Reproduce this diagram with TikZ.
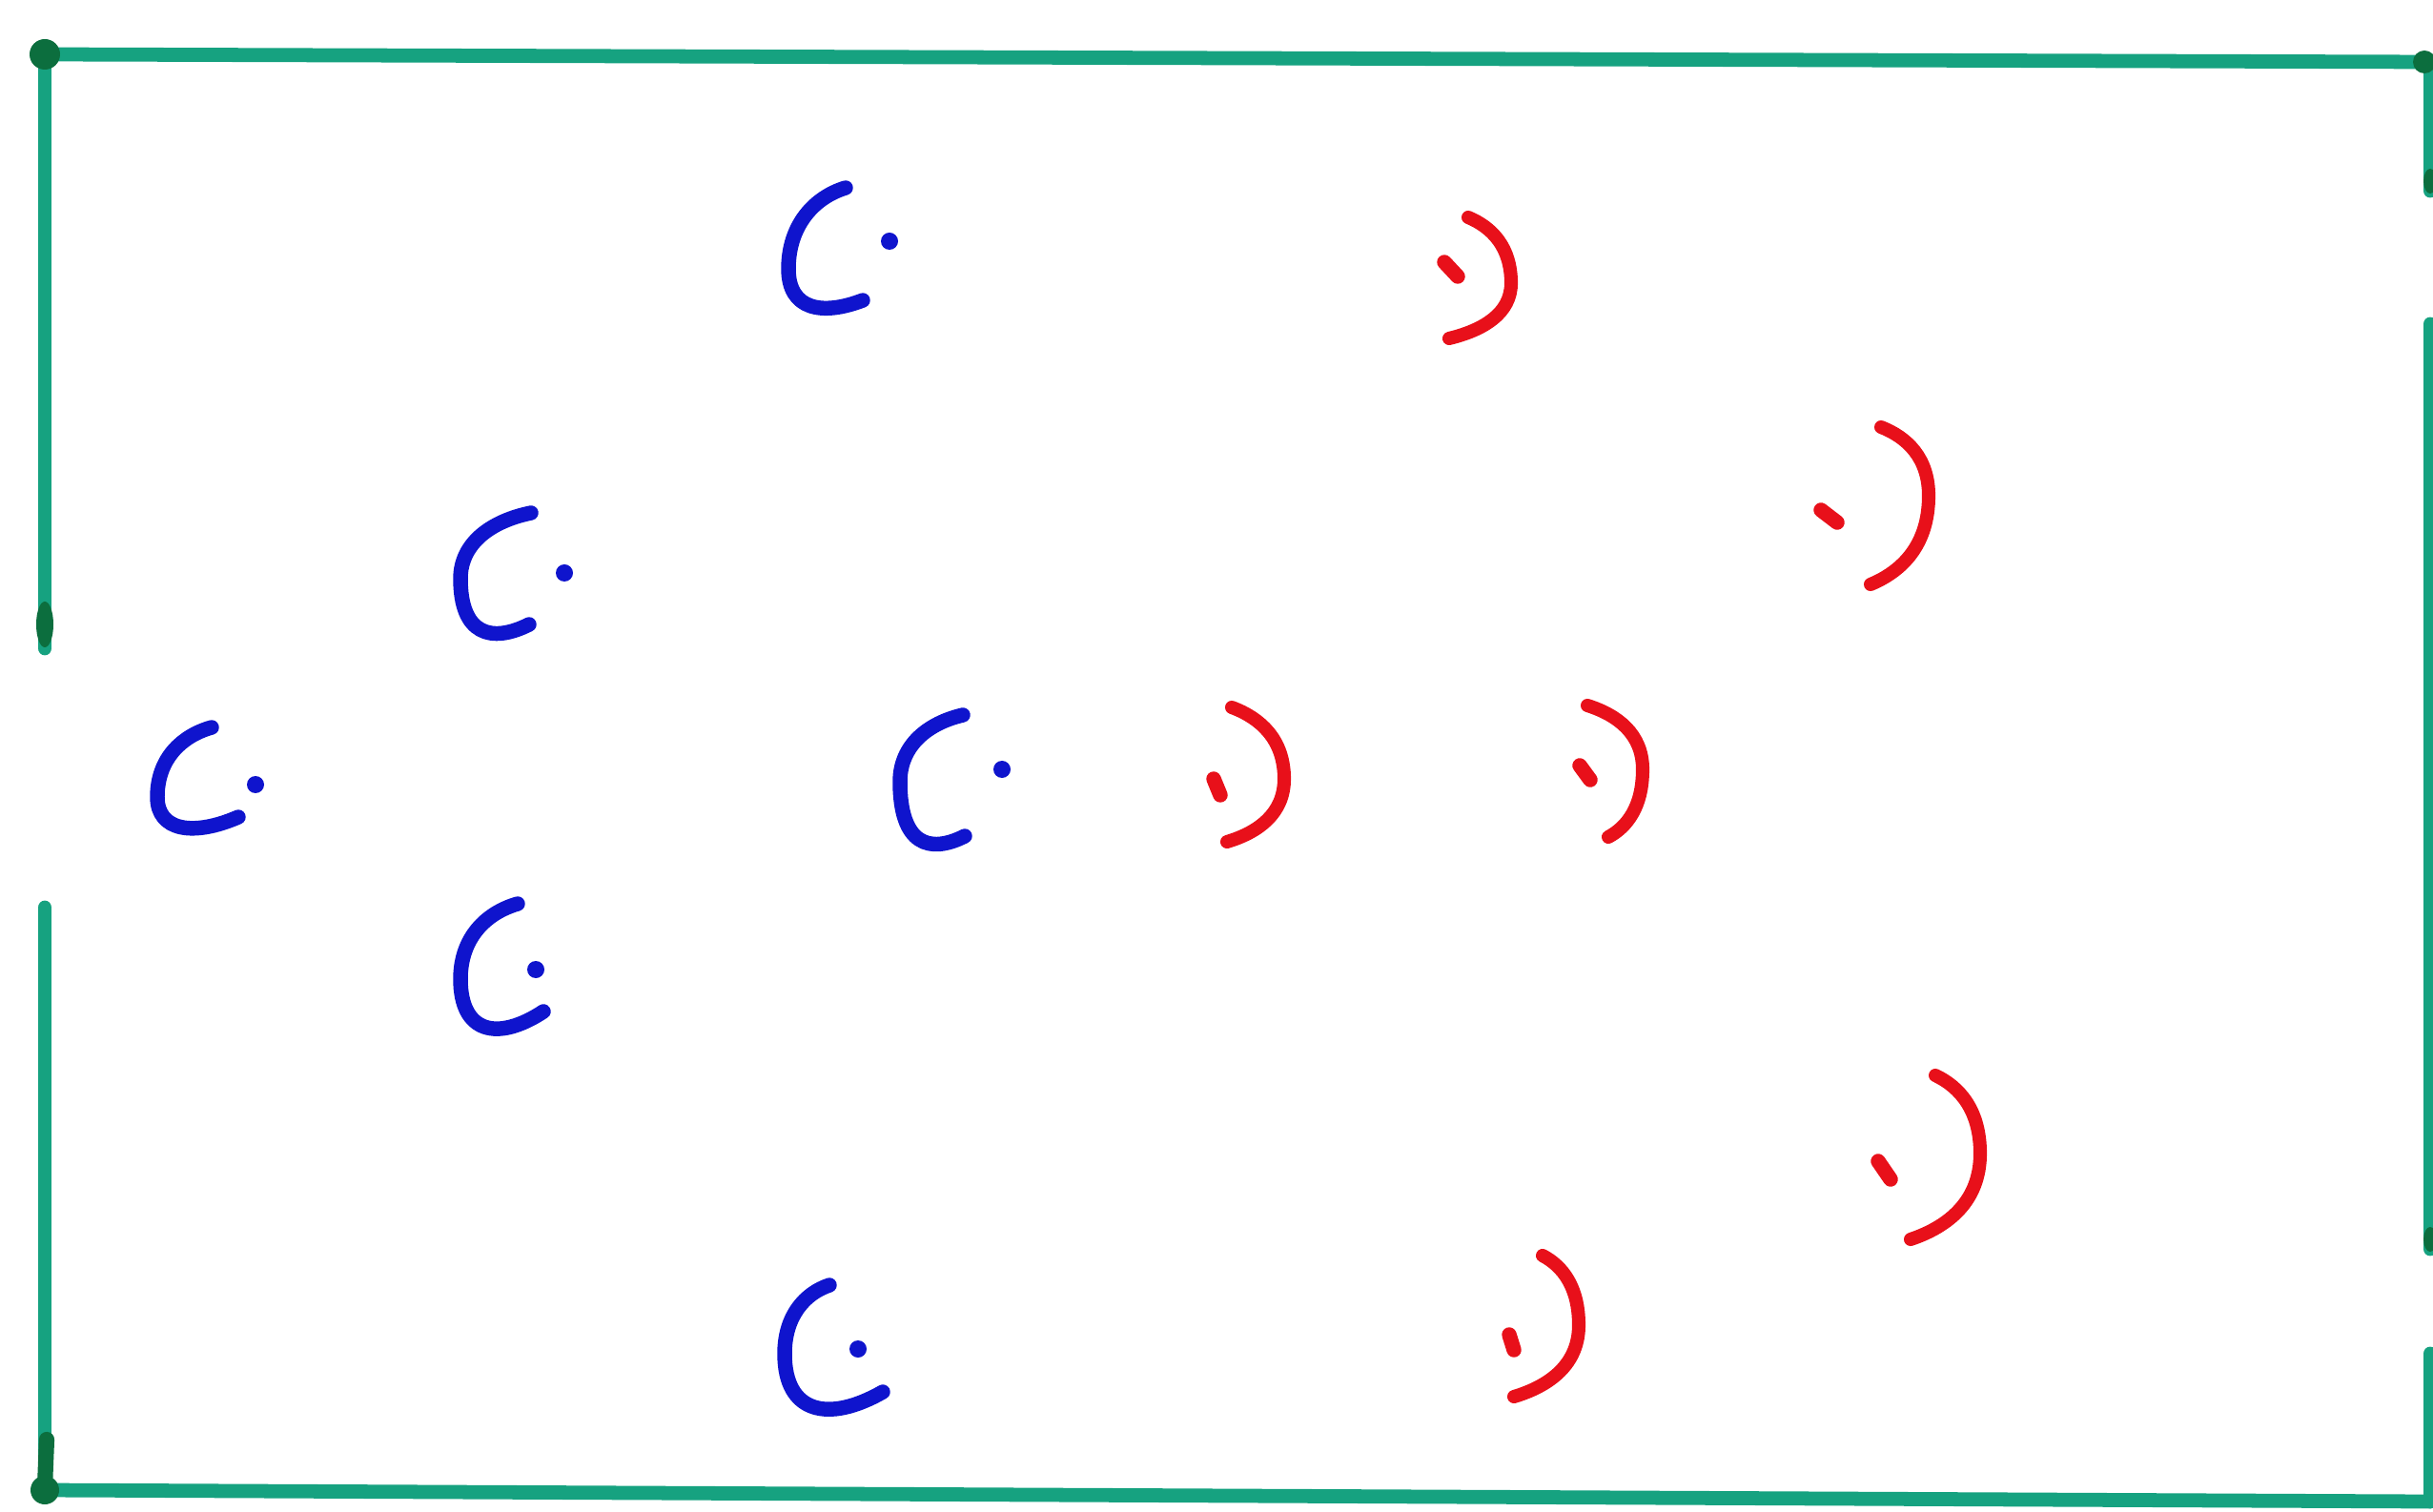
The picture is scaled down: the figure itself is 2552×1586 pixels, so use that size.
\documentclass[tikz,border=0pt]{standalone}
\definecolor{field}{RGB}{22,162,128}
\definecolor{fielddark}{RGB}{12,110,62}
\definecolor{teamblue}{RGB}{15,20,205}
\definecolor{teamred}{RGB}{232,16,26}
\usetikzlibrary{calc}
% blue player: top end T, leftmost L, bottom-most B, end E, dot D
\newcommand\blueplayer[5]{%
  \path #1 coordinate (T) #2 coordinate (L) #3 coordinate (B) #4 coordinate (E);
  \draw[bluearc] (T) .. controls ($(T)!0.55!(L|-T)+(0,0.12*\ly)$) and ($(L)+(0,-0.55*\ly)$) .. (L)
     .. controls (L|-B) and ($(L|-B)!0.45!(E|-B)+(0,0.15*\lb)$) .. (E);
  \fill[bluedot] #5 circle (9);}
% red player: top end T, rightmost R, end E, dash from D1 to D2
\newcommand\redplayer[5]{%
  \path #1 coordinate (T) #2 coordinate (R) #3 coordinate (E);
  \draw[redarc] (T) .. controls ($(T)!0.55!(R|-T)+(0,0.15*\ra)$) and ($(R)+(0,-0.55*\ra)$) .. (R)
     .. controls ($(R)+(0,0.55*\rb)$) and ($(E)!0.55!(R|-E)+(0,-0.15*\rb)$) .. (E);
  \draw[reddot] #4 -- #5;}
\begin{document}
\begin{tikzpicture}[x=0.01cm,y=-0.01cm,
  fieldline/.style={draw=field,line width=4.2pt,line cap=round},
  knot/.style={fill=fielddark},
  bluearc/.style={draw=teamblue,line width=4.4pt,line cap=round,line join=round},
  bluedot/.style={fill=teamblue},
  redarc/.style={draw=teamred,line width=4pt,line cap=round,line join=round},
  reddot/.style={draw=teamred,line width=4.4pt,line cap=round}]
\useasboundingbox (0,0) rectangle (2552,1586);
\fill[white] (0,0) rectangle (2552,1586);

% field outline with goal gaps
\coordinate (tl) at (47,57);
\coordinate (tr) at (2549,65);
\coordinate (bl) at (47,1563);
\coordinate (br) at (2549,1575);
\draw[fieldline] (tl) -- (tr);
\draw[fieldline] (bl) -- (br);
\draw[fieldline] (tl) -- (47,680);
\draw[fieldline] (47,952) -- (bl);
\draw[fieldline] (tr) -- (2549,200);
\draw[fieldline] (2549,340) -- (2549,1310);
\draw[fieldline] (2549,1420) -- (br);
\fill[knot] (tl) circle (16);
\fill[knot] (47,655) ellipse (9 and 24);
\fill[knot] (bl) circle (15);
\draw[fielddark,line width=4.6pt,line cap=round] (49,1510) -- (47,1560);
\fill[knot] (2543,65) circle (12);
\fill[knot] (2549,190) ellipse (7 and 13);
\fill[knot] (2549,1300) ellipse (7 and 13);

% blue team  (\ly = L.y-T.y, \lb = B.y-L.y)
\def\ly{83}\def\lb{43}
\blueplayer{(887,197)}{(827,282)}{(857,325)}{(905,315)}{(933,253)}
\def\ly{69}\def\lb{59}
\blueplayer{(557,538)}{(483,607)}{(530,666)}{(555,655)}{(592,601)}
\def\ly{73}\def\lb{36}
\blueplayer{(222,763)}{(165,836)}{(207,872)}{(250,857)}{(268,823)}
\def\ly{70}\def\lb{66}
\blueplayer{(1010,750)}{(944,820)}{(990,886)}{(1012,877)}{(1051,807)}
\def\ly{79}\def\lb{57}
\blueplayer{(543,948)}{(483,1027)}{(522,1084)}{(570,1061)}{(562,1017)}
\def\ly{72}\def\lb{63}
\blueplayer{(870,1348)}{(823,1420)}{(872,1483)}{(926,1460)}{(900,1415)}

% red team (\ra = R.y-T.y, \rb = E.y-R.y)
\def\ra{69}\def\rb{58}
\redplayer{(1540,228)}{(1585,297)}{(1520,355)}{(1515,275)}{(1529,290)}
\def\ra{72}\def\rb{93}
\redplayer{(1973,448)}{(2023,520)}{(1962,613)}{(1910,535)}{(1927,548)}
\def\ra{75}\def\rb{66}
\redplayer{(1292,742)}{(1347,817)}{(1287,883)}{(1273,817)}{(1280,834)}
\def\ra{67}\def\rb{71}
\redplayer{(1665,740)}{(1723,807)}{(1687,878)}{(1657,803)}{(1668,818)}
\def\ra{82}\def\rb{90}
\redplayer{(2030,1128)}{(2077,1210)}{(2004,1300)}{(1970,1218)}{(1983,1237)}
\def\ra{73}\def\rb{75}
\redplayer{(1618,1317)}{(1656,1390)}{(1588,1465)}{(1583,1400)}{(1588,1416)}
\end{tikzpicture}
\end{document}
